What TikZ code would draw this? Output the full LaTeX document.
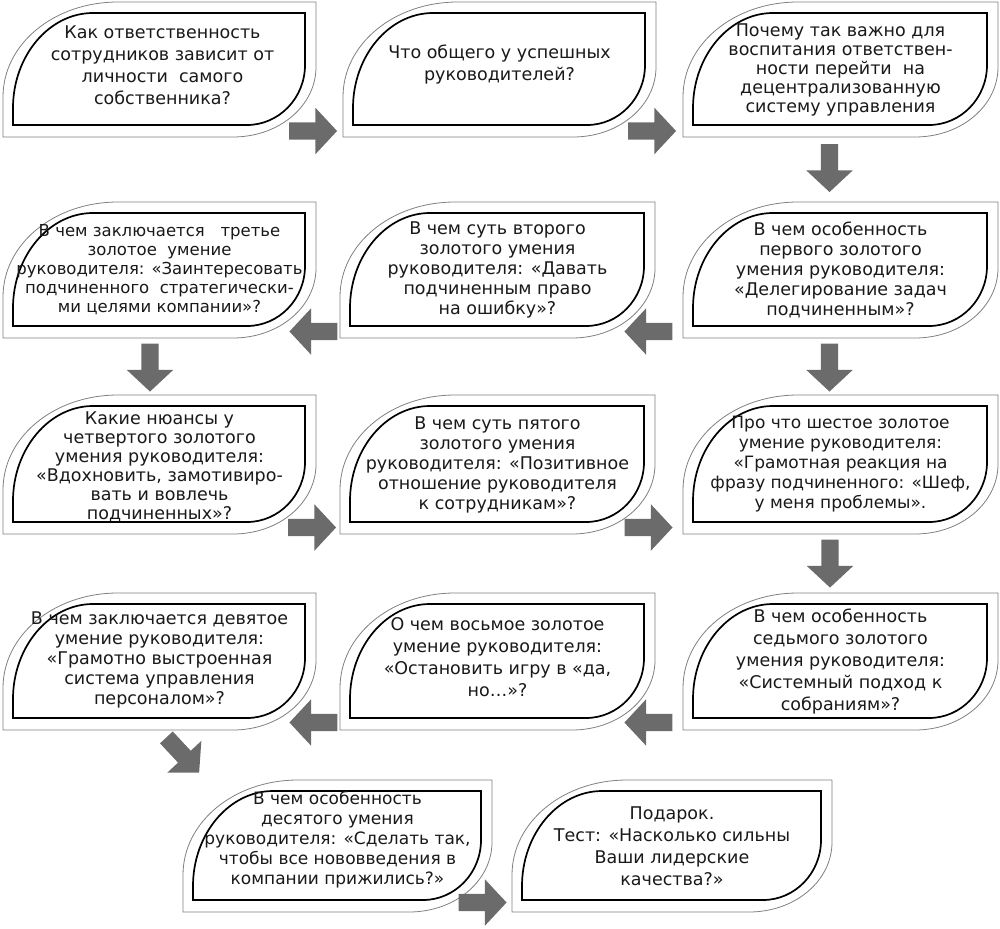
\documentclass[tikz,border=0pt]{standalone}
\usepackage{fontspec}
\setmainfont{DejaVu Sans}
\usetikzlibrary{shapes.arrows}
\tikzset{
  outerleaf/.style={draw=black!50, line width=0.8pt, fill=white},
  innerleaf/.style={draw=black, line width=1.7pt},
  qtext/.style={align=center, font=\fontsize{17.5}{20}\selectfont, inner sep=0pt, text=black!90},
  wide/.style={font=\fontsize{17.5}{22}\selectfont},
  tight/.style={font=\fontsize{17.5}{19}\selectfont},
  blockarrow/.style={single arrow, fill=black!58, draw=none, minimum height=48pt,
    single arrow head extend=14.5pt, single arrow tip angle=94, inner sep=0pt},
}
% [options] name, x1, y1, x2, y2, text
\newcommand\leafbox[7][]{%
  \path[outerleaf] (#3,#6) -- (#3,#4+95) .. controls (#3,#4+42) and (#3+51,#4) .. (#3+115,#4)
    -- (#5,#4) -- (#5,#6-70) .. controls (#5,#6-31) and (#5-37,#6) .. (#5-83,#6) -- cycle;
  \path[innerleaf] (#3+10,#6-12) -- (#3+10,#4+11+95) .. controls (#3+10,#4+11+43) and (#3+10+36,#4+11) .. (#3+10+80,#4+11)
    -- (#5-11,#4+11) -- (#5-11,#6-12-60) .. controls (#5-11,#6-12-27) and (#5-11-26,#6-12) .. (#5-11-58,#6-12) -- cycle;
  \node[qtext,#1] (#2) at ({(#3+#5)/2},{(#4+#6)/2}) {#7};
}
\newcommand\arrowbody{\rule{0pt}{17pt}}
\begin{document}
\begin{tikzpicture}[x=1pt,y=-1pt]
\useasboundingbox (0,0) rectangle (1000,928);
% row 1
\leafbox[wide,yshift=4pt,xshift=3pt]{b1}{3}{2}{316}{137}{Как ответственность\\сотрудников зависит от\\личности\ \ самого\\собственника?}
\leafbox[wide,yshift=5pt]{b2}{343}{2}{656}{137}{Что общего у успешных\\руководителей?}
\leafbox[tight]{b3}{683}{2}{998}{137}{Почему так важно для\\воспитания ответствен-\\ности перейти\ \ на\\децентрализованную\\систему управления}
% row 2
\leafbox[font=\fontsize{16.5}{19}\selectfont]{b4}{3}{202}{316}{338}{В чем заключается\ \ \ третье\\золотое\ \ умение\\руководителя: «Заинтересовать\\подчиненного\ \ стратегически-\\ми целями компании»?}
\leafbox{b5}{340}{202}{655}{338}{В чем суть второго\\золотого умения\\руководителя: «Давать\\подчиненным право\\на ошибку»?}
\leafbox{b6}{683}{202}{998}{338}{В чем особенность\\первого золотого\\умения руководителя:\\«Делегирование задач\\подчиненным»?}
% row 3
\leafbox[tight,yshift=-2pt]{b7}{3}{395}{316}{534}{Какие нюансы у\\четвертого золотого\\умения руководителя:\\«Вдохновить, замотивиро-\\вать и вовлечь\\подчиненных»?}
\leafbox{b8}{340}{395}{655}{534}{В чем суть пятого\\золотого умения\\руководителя: «Позитивное\\отношение руководителя\\к сотрудникам»?}
\leafbox[font=\fontsize{17}{20}\selectfont]{b9}{683}{395}{998}{534}{Про что шестое золотое\\умение руководителя:\\«Грамотная реакция на\\фразу подчиненного: «Шеф,\\у меня проблемы».}
% row 4
\leafbox[yshift=2pt]{b10}{3}{593}{316}{730}{В чем заключается девятое\\умение руководителя:\\«Грамотно выстроенная\\система управления\\персоналом»?}
\leafbox[wide,yshift=4pt]{b11}{340}{593}{655}{730}{О чем восьмое золотое\\умение руководителя:\\«Остановить игру в «да,\\но…»?}
\leafbox[wide]{b12}{683}{593}{998}{730}{В чем особенность\\седьмого золотого\\умения руководителя:\\«Системный подход к\\собраниям»?}
% row 5
\leafbox[font=\fontsize{17}{20}\selectfont,yshift=6pt]{b13}{183}{780}{492}{912}{В чем особенность\\десятого умения\\руководителя: «Сделать так,\\чтобы все нововведения в\\компании прижились?»}
\leafbox[wide]{b14}{512}{780}{832}{912}{Подарок.\\Тест: «Насколько сильны\\Ваши лидерские\\качества?»}
% arrows
\node[blockarrow] (a12) at (309,131) {\arrowbody};
\node[blockarrow] (a23) at (648,131) {\arrowbody};
\node[blockarrow, rotate=-90] (a36) at (829.5,164) {\arrowbody};
\node[blockarrow, rotate=180] (a65) at (652.5,331.5) {\arrowbody};
\node[blockarrow, rotate=180] (a54) at (317.5,331.5) {\arrowbody};
\node[blockarrow, rotate=-90] (a47) at (150,363.5) {\arrowbody};
\node[blockarrow, rotate=-90] (a69) at (829.5,363.5) {\arrowbody};
\node[blockarrow] (a78) at (308,527.5) {\arrowbody};
\node[blockarrow] (a89) at (644.5,527.5) {\arrowbody};
\node[blockarrow, rotate=-90] (a912) at (830,559.5) {\arrowbody};
\node[blockarrow, rotate=180] (a1211) at (652.5,722.5) {\arrowbody};
\node[blockarrow, rotate=180] (a1110) at (317.5,722.5) {\arrowbody};
\node[blockarrow, rotate=-47] (a1013) at (180,752) {\arrowbody};
\node[blockarrow] (a1314) at (478.5,902.5) {\arrowbody};
\end{tikzpicture}
\end{document}
